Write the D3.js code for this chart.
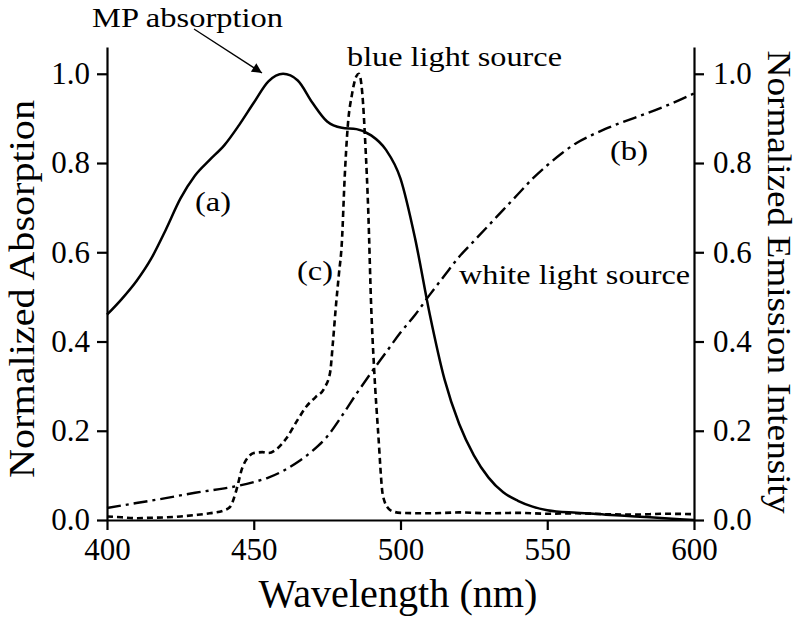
<!DOCTYPE html>
<html>
<head>
<meta charset="utf-8">
<script src="https://cdn.jsdelivr.net/npm/d3@7"></script>
<style>
  html, body { margin: 0; padding: 0; background: #fff; }
  svg { display: block; }
  svg text { font-family: "Liberation Serif", "DejaVu Serif", serif; fill: #000; }
</style>
</head>
<body>
<svg id="chart" width="804" height="620"></svg>
<script>
// ---- data ----
const xTicks = [400, 450, 500, 550, 600];
const yTicks = [0.0, 0.2, 0.4, 0.6, 0.8, 1.0];

// (a) MP absorption
const absWl  = [400,405,410,415,420,425,430,435,440,445,450,455,460,465,470,475,480,485,490,495,500,505,510,515,520,525,530,535,540,545,550,560,570,580,590,600];
const absVal = [0.46,0.495,0.535,0.585,0.65,0.72,0.772,0.807,0.84,0.885,0.935,0.983,1.0,0.985,0.935,0.893,0.879,0.876,0.862,0.83,0.765,0.63,0.46,0.315,0.215,0.145,0.095,0.062,0.043,0.03,0.022,0.016,0.012,0.008,0.004,0.0];

// (b) white light source
const whiteWl  = [400,410,420,430,440,445,450,455,460,465,470,475,480,485,490,495,500,505,510,515,520,525,530,535,540,545,550,555,560,565,570,575,580,585,590,595,600];
const whiteVal = [0.027,0.038,0.049,0.061,0.071,0.077,0.085,0.095,0.11,0.13,0.155,0.187,0.233,0.283,0.33,0.375,0.42,0.46,0.505,0.548,0.59,0.625,0.66,0.695,0.73,0.765,0.795,0.822,0.845,0.862,0.877,0.89,0.902,0.914,0.927,0.941,0.956];

// (c) blue light source
const blueWl  = [400,405,410,415,420,425,430,435,440,442,444,446,448,450,453,455,458,461,465,468,471,474,476,477,478,479,480,481,482,483.5,485,485.8,487,488,489,490,491,492.4,494,496,498,500,510,520,530,540,550,560,570,580,590,600];
const blueVal = [0.008,0.006,0.004,0.005,0.006,0.008,0.011,0.015,0.022,0.03,0.065,0.115,0.14,0.15,0.152,0.15,0.16,0.182,0.225,0.255,0.275,0.295,0.33,0.40,0.48,0.55,0.62,0.77,0.88,0.955,0.995,1.0,0.955,0.845,0.695,0.48,0.34,0.195,0.055,0.025,0.018,0.016,0.015,0.017,0.015,0.016,0.014,0.015,0.013,0.012,0.014,0.013];

// ---- layout ----
const svg = d3.select("#chart");
const FONT = "Liberation Serif, DejaVu Serif, serif";
const x = d3.scaleLinear().domain([400, 600]).range([107, 694]);
const y = d3.scaleLinear().domain([0, 1.06]).range([520, 47]);

// axes
const gx = svg.append("g").attr("transform", "translate(0,520)")
  .call(d3.axisBottom(x).tickValues(xTicks).tickSize(10).tickSizeOuter(0).tickPadding(8).tickFormat(d3.format("d")));
const gl = svg.append("g").attr("transform", "translate(107,0)")
  .call(d3.axisLeft(y).tickValues(yTicks).tickSize(10).tickSizeOuter(0).tickPadding(7).tickFormat(d3.format(".1f")));
const gr = svg.append("g").attr("transform", "translate(694,0)")
  .call(d3.axisRight(y).tickValues(yTicks).tickSize(10).tickSizeOuter(0).tickPadding(9).tickFormat(d3.format(".1f")));

[gx, gl, gr].forEach(g => {
  g.attr("font-family", FONT);
  g.select(".domain").attr("stroke", "#000").attr("stroke-width", 2.2);
  g.selectAll(".tick line").attr("stroke", "#000").attr("stroke-width", 2.2);
  g.selectAll(".tick text").attr("font-family", FONT).attr("font-size", 31).attr("fill", "#000");
});

// curves
const line = d3.line().x(d => x(d[0])).y(d => y(d[1])).curve(d3.curveMonotoneX);
const absData = absWl.map((w, i) => [w, absVal[i]]);
const whiteData = whiteWl.map((w, i) => [w, whiteVal[i]]);
const blueData = blueWl.map((w, i) => [w, blueVal[i]]);

svg.append("path").datum(whiteData).attr("d", line)
  .attr("fill", "none").attr("stroke", "#000").attr("stroke-width", 2.4)
  .attr("stroke-dasharray", "14,5,3,5");
svg.append("path").datum(blueData).attr("d", line)
  .attr("fill", "none").attr("stroke", "#000").attr("stroke-width", 2.6)
  .attr("stroke-dasharray", "6,4");
svg.append("path").datum(absData).attr("d", line)
  .attr("fill", "none").attr("stroke", "#000").attr("stroke-width", 2.5);

// axis titles
svg.append("text").attr("x", 398).attr("y", 607).attr("text-anchor", "middle")
  .attr("font-family", FONT)
  .attr("font-size", 40).attr("textLength", 279).attr("lengthAdjust", "spacingAndGlyphs")
  .text("Wavelength (nm)");
svg.append("text").attr("transform", "translate(34,289) rotate(-90)").attr("text-anchor", "middle")
  .attr("font-family", FONT)
  .attr("font-size", 35).attr("textLength", 378).attr("lengthAdjust", "spacingAndGlyphs")
  .text("Normalized Absorption");
svg.append("text").attr("transform", "translate(768,282) rotate(90)").attr("text-anchor", "middle")
  .attr("font-family", FONT)
  .attr("font-size", 33).attr("textLength", 463).attr("lengthAdjust", "spacingAndGlyphs")
  .text("Normalized Emission Intensity");

// annotations
function label(txt, x0, yb, w) {
  svg.append("text").attr("x", x0).attr("y", yb).attr("font-size", 28)
    .attr("font-family", FONT)
    .attr("textLength", w).attr("lengthAdjust", "spacingAndGlyphs").text(txt);
}
label("MP absorption", 92, 27, 191);
label("blue light source", 347, 66, 215);
label("white light source", 459, 284, 231);
label("(a)", 195, 211, 36);
label("(c)", 297, 280, 36);
label("(b)", 610, 160, 38);

// arrow for MP absorption
svg.append("defs").append("marker").attr("id", "ah")
  .attr("viewBox", "0 0 10 10").attr("refX", 10).attr("refY", 5)
  .attr("markerWidth", 14).attr("markerHeight", 10).attr("markerUnits", "userSpaceOnUse")
  .attr("orient", "auto")
  .append("path").attr("d", "M0,0 L10,5 L0,10 Z").attr("fill", "#000");
svg.append("line").attr("x1", 194).attr("y1", 29).attr("x2", 262).attr("y2", 73)
  .attr("stroke", "#000").attr("stroke-width", 1.3).attr("marker-end", "url(#ah)");
</script>
</body>
</html>
